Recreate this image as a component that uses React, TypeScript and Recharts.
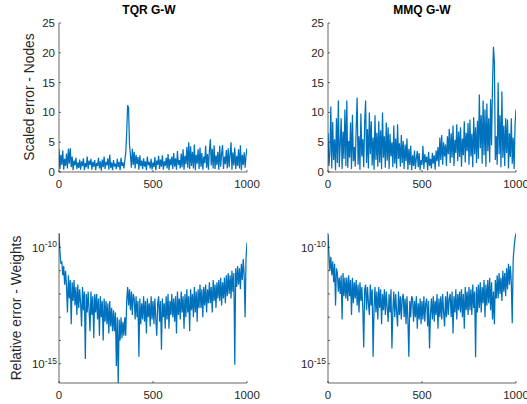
import React from 'react';
import { LineChart, Line, XAxis, YAxis } from 'recharts';

// sample index runs 0..1000, one stored value every 5 samples
const xTicks = [0, 500, 1000];
const linTicks = [0, 5, 10, 15, 20, 25];
const logTicks = [1e-15, 1e-14, 1e-13, 1e-12, 1e-11, 1e-10];
const logLabelled = [-15, -10];

// scaled error of the nodes (TQR)
const tqrNodes = [
  3.8, 0.5, 2.9, 1.2, 3.6, 0.4, 2.2, 1.0, 3.1, 0.6,
  3.9, 1.4, 4.0, 0.8, 2.6, 0.3, 1.9, 1.1, 2.4, 0.5,
  1.6, 0.7, 2.1, 0.4, 1.8, 1.0, 2.3, 0.3, 1.5, 0.8,
  2.6, 0.5, 1.9, 1.2, 2.2, 0.4, 1.7, 0.9, 2.0, 0.3,
  1.5, 1.0, 2.4, 0.6, 1.8, 0.2, 2.1, 0.8, 2.6, 0.5,
  1.7, 1.1, 2.3, 0.4, 2.9, 0.7, 1.6, 0.3, 2.0, 0.9,
  1.4, 0.5, 2.2, 0.8, 1.7, 0.3, 2.4, 1.0, 1.6, 0.6,
  1.9, 3.2, 6.5, 11.2, 10.8, 4.6, 2.8, 0.7, 3.9, 1.2,
  3.4, 0.6, 2.9, 1.3, 2.5, 0.4, 2.8, 1.0, 1.9, 0.5,
  2.3, 0.9, 1.8, 0.3, 2.6, 1.1, 1.7, 0.6, 2.2, 0.4,
  1.6, 0.8, 2.5, 0.3, 1.9, 1.2, 2.7, 0.5, 2.1, 0.9,
  2.8, 0.4, 1.8, 1.0, 2.4, 0.6, 3.0, 0.3, 2.2, 1.1,
  2.6, 0.5, 3.2, 0.9, 2.3, 0.4, 3.5, 1.2, 2.0, 0.6,
  3.1, 0.8, 3.8, 0.4, 2.7, 1.3, 4.2, 0.7, 5.0, 0.5,
  4.3, 1.0, 3.4, 0.6, 4.6, 0.3, 2.9, 1.4, 3.8, 0.5,
  4.1, 0.9, 3.2, 0.4, 2.6, 1.5, 4.4, 0.7, 3.0, 0.4,
  3.6, 5.5, 1.1, 3.9, 0.6, 4.5, 0.5, 2.8, 1.2, 3.4,
  0.4, 4.4, 0.9, 3.1, 4.5, 0.5, 2.6, 1.3, 3.7, 0.6,
  4.0, 0.8, 2.9, 5.0, 0.4, 3.3, 1.1, 4.1, 0.5, 2.7,
  1.0, 3.8, 0.6, 4.5, 0.3, 2.9, 1.2, 3.3, 0.7, 2.8,
  4.0,
];

// scaled error of the nodes (MMQ)
const mmqNodes = [
  6.5, 1.0, 3.2, 11.0, 0.6, 8.4, 2.0, 5.5, 0.3, 9.0,
  1.5, 12.0, 0.8, 4.6, 9.0, 0.5, 6.8, 2.2, 10.5, 1.0,
  12.0, 0.7, 5.2, 2.4, 8.3, 0.5, 9.6, 1.8, 4.2, 0.9,
  7.5, 12.5, 1.2, 6.0, 0.4, 9.8, 2.6, 5.5, 0.8, 8.4,
  12.0, 1.5, 7.2, 0.6, 10.0, 3.0, 8.5, 1.1, 5.8, 0.4,
  9.5, 2.0, 6.6, 0.9, 8.5, 1.6, 7.0, 0.5, 10.0, 2.4,
  6.0, 0.7, 8.3, 1.9, 7.5, 0.5, 6.4, 2.6, 5.0, 0.8,
  7.8, 1.4, 5.6, 0.6, 8.0, 2.2, 4.8, 0.9, 6.2, 1.5,
  5.2, 0.5, 4.6, 1.8, 5.6, 0.4, 3.9, 1.2, 4.4, 0.3,
  2.8, 1.0, 3.6, 0.5, 2.4, 3.5, 0.8, 3.2, 0.3, 2.0,
  1.2, 4.4, 0.5, 3.0, 1.6, 2.6, 0.3, 3.4, 1.0, 2.2,
  0.6, 3.2, 1.4, 2.8, 0.4, 3.6, 1.8, 4.2, 0.9, 5.8,
  2.0, 6.2, 1.2, 5.0, 2.6, 4.6, 1.0, 6.0, 3.0, 7.2,
  1.5, 6.5, 2.4, 7.8, 1.0, 5.4, 3.2, 8.0, 1.8, 6.8,
  2.5, 7.5, 0.9, 5.6, 2.8, 8.5, 1.6, 6.6, 3.5, 8.2,
  1.2, 8.8, 2.6, 6.4, 0.8, 9.2, 3.0, 7.5, 1.5, 8.6,
  2.2, 13.0, 4.0, 9.5, 1.4, 12.0, 2.8, 10.5, 0.9, 11.5,
  3.5, 9.0, 1.6, 12.2, 4.5, 14.5, 21.0, 18.5, 2.0, 6.0,
  1.2, 15.0, 3.0, 9.5, 0.8, 13.5, 2.4, 7.8, 1.0, 9.0,
  3.2, 8.8, 0.6, 6.5, 2.5, 9.0, 1.4, 5.8, 0.5, 8.0,
  10.5,
];

// relative error of the weights, stored as log10 exponents (TQR)
const tqrWeightsExp = [
  -9.4, -10.2, -10.7, -10.6, -11.2, -10.8, -11.6, -11.0, -11.7, -12.8,
  -11.2, -12.2, -11.4, -13.3, -11.5, -12.3, -11.4, -12.5, -11.7, -12.9,
  -11.6, -12.6, -11.8, -12.4, -13.4, -11.7, -12.7, -11.9, -14.8, -12.0,
  -12.8, -11.9, -12.7, -13.6, -11.9, -12.9, -12.1, -13.9, -12.0, -12.8,
  -12.0, -13.1, -12.2, -13.8, -12.1, -13.0, -12.3, -14.0, -12.2, -13.2,
  -12.3, -13.3, -12.4, -13.7, -12.3, -13.4, -12.6, -13.6, -12.7, -13.6,
  -12.8, -15.1, -13.0, -15.9, -13.1, -14.0, -13.0, -13.9, -13.2, -13.8,
  -13.0, -13.8, -12.3, -11.7, -12.5, -11.8, -12.7, -11.9, -12.9, -12.0,
  -12.2, -13.1, -12.1, -13.0, -12.3, -14.7, -12.2, -13.3, -12.4, -13.1,
  -12.1, -13.2, -12.3, -13.7, -12.2, -13.0, -12.4, -13.4, -12.1, -13.1,
  -12.3, -13.3, -12.2, -13.1, -13.8, -12.4, -12.1, -13.2, -12.3, -14.4,
  -12.2, -13.0, -12.4, -13.5, -12.1, -13.1, -12.0, -13.5, -12.3, -12.9,
  -12.0, -13.0, -12.2, -13.2, -12.1, -13.7, -11.9, -12.9, -12.2, -13.1,
  -11.9, -12.8, -12.1, -13.5, -12.0, -13.0, -11.8, -12.8, -12.1, -13.6,
  -11.8, -12.7, -12.0, -13.0, -11.7, -12.8, -11.9, -13.2, -11.8, -12.6,
  -11.6, -12.6, -11.8, -13.0, -11.7, -12.5, -11.6, -12.8, -11.8, -12.4,
  -11.5, -12.4, -11.7, -12.8, -11.4, -12.3, -11.6, -12.6, -11.5, -12.2,
  -11.4, -12.3, -11.3, -12.5, -11.5, -12.2, -11.3, -12.4, -11.2, -12.1,
  -11.1, -12.0, -11.2, -12.2, -11.0, -11.9, -11.1, -15.05, -10.9, -11.7,
  -10.8, -11.6, -10.9, -11.8, -10.7, -11.4, -10.5, -11.2, -13.0, -10.4,
  -9.8,
];

// relative error of the weights, stored as log10 exponents (MMQ)
const mmqWeightsExp = [
  -9.45, -10.3, -11.0, -10.4, -11.2, -10.6, -11.5, -10.7, -12.5, -10.9,
  -11.1, -11.9, -11.3, -12.0, -11.2, -13.1, -11.1, -12.1, -11.3, -12.2,
  -11.3, -12.3, -11.2, -12.1, -11.4, -12.9, -11.3, -12.4, -11.5, -12.2,
  -11.4, -12.5, -11.6, -12.8, -11.5, -12.3, -11.7, -12.6, -14.3, -11.8,
  -11.6, -12.7, -11.7, -12.4, -12.9, -11.6, -12.5, -11.8, -14.7, -12.6,
  -11.7, -12.8, -11.9, -13.1, -11.7, -12.6, -11.8, -13.3, -12.0, -12.7,
  -11.8, -12.9, -11.9, -12.6, -13.2, -12.0, -12.8, -11.8, -14.35, -12.7,
  -11.9, -13.0, -12.0, -12.8, -13.4, -11.9, -12.9, -12.1, -13.1, -12.2,
  -12.0, -13.0, -12.2, -13.3, -12.1, -13.1, -14.7, -12.3, -13.0, -12.1,
  -12.2, -13.2, -12.3, -13.0, -12.1, -13.5, -12.4, -13.1, -12.2, -13.3,
  -12.3, -13.1, -12.1, -13.2, -12.4, -12.2, -13.4, -12.3, -14.35, -12.9,
  -12.2, -13.1, -12.1, -13.2, -12.3, -12.9, -12.0, -13.5, -12.2, -13.0,
  -12.1, -13.1, -12.0, -12.8, -13.4, -12.1, -13.0, -11.9, -12.9, -12.2,
  -12.0, -13.0, -11.9, -13.7, -12.1, -12.8, -11.8, -13.1, -12.0, -12.7,
  -11.9, -12.8, -11.8, -13.0, -12.0, -13.5, -11.7, -12.7, -11.9, -12.9,
  -11.7, -12.7, -11.8, -12.9, -11.6, -12.6, -11.9, -14.72, -11.7, -12.8,
  -11.6, -12.6, -11.5, -12.8, -11.7, -12.4, -11.4, -13.0, -11.6, -12.5,
  -11.4, -12.4, -11.3, -12.7, -11.5, -13.1, -11.9, -13.3, -11.4, -12.2,
  -11.2, -12.2, -11.1, -12.0, -11.3, -12.3, -11.0, -11.9, -11.1, -12.1,
  -10.9, -11.8, -10.7, -11.6, -10.8, -11.5, -13.26, -10.5, -10.0, -9.6,
  -9.4,
];

const LINE = '#0072BD';
const AXIS = '#262626';
const FONT = '"Liberation Sans", Arial, Helvetica, sans-serif';

const toRows = (vals: number[], exp = false) =>
  vals.map((v, i) => ({ x: (i * 1000) / (vals.length - 1), y: exp ? Math.pow(10, v) : v }));

const LogTick = (props: any) => {
  const { x, y, payload } = props;
  const e = Math.round(Math.log10(payload.value));
  if (!logLabelled.includes(e)) return <g />;
  return (
    <text x={x} y={y} textAnchor="end" fill={AXIS} fontSize={11.5} fontFamily={FONT}>
      <tspan dy="0.4em">10</tspan>
      <tspan dy="-0.55em" fontSize={8.5}>{e}</tspan>
    </text>
  );
};

const ML = 50;
const MR = 20;
const MT = 10;
const MB = 30;

function Panel({ left, top, w, h, rows, log }: any) {
  const axisLine = { stroke: AXIS, strokeWidth: 0.7 };
  const tickFont = { fill: AXIS, fontSize: 11.5, fontFamily: FONT };
  const yDomain = log ? [Math.pow(10, -15.83), Math.pow(10, -9.38)] : [0, 25];
  const yTicks = log ? logTicks : linTicks;
  return (
    <div style={{ position: 'absolute', left: left - ML, top: top - MT }}>
      <LineChart
        width={w + ML + MR}
        height={h + MT + MB}
        data={rows}
        margin={{ top: MT, right: MR, bottom: 0, left: 0 }}
      >
        <XAxis
          dataKey="x"
          type="number"
          domain={[0, 1000]}
          ticks={xTicks}
          interval={0}
          height={MB}
          tickSize={-2}
          tickMargin={10}
          axisLine={axisLine}
          tickLine={axisLine}
          tick={tickFont}
          allowDataOverflow
        />
        <XAxis
          xAxisId="top"
          orientation="top"
          type="number"
          domain={[0, 1000]}
          ticks={xTicks}
          interval={0}
          height={0}
          tickSize={-2}
          tick={false}
          axisLine={axisLine}
          tickLine={axisLine}
          allowDataOverflow
        />
        <YAxis
          type="number"
          scale={log ? 'log' : 'auto'}
          domain={yDomain}
          ticks={yTicks}
          interval={0}
          width={ML}
          tickSize={-2}
          tickMargin={log ? 4 : 6}
          axisLine={axisLine}
          tickLine={axisLine}
          tick={log ? <LogTick /> : tickFont}
          allowDataOverflow
        />
        <YAxis
          yAxisId="right"
          orientation="right"
          type="number"
          scale={log ? 'log' : 'auto'}
          domain={yDomain}
          ticks={yTicks}
          interval={0}
          width={0}
          tickSize={-2}
          tick={false}
          axisLine={axisLine}
          tickLine={axisLine}
          allowDataOverflow
        />
        <Line
          dataKey="y"
          stroke={LINE}
          strokeWidth={1.25}
          strokeLinejoin="miter"
          dot={false}
          isAnimationActive={false}
        />
      </LineChart>
    </div>
  );
}

export default function App() {
  const title = {
    position: 'absolute' as const,
    top: 3,
    width: 120,
    textAlign: 'center' as const,
    fontFamily: FONT,
    fontWeight: 'bold' as const,
    fontSize: 12,
    color: '#000',
  };
  const ylabel = {
    position: 'absolute' as const,
    width: 200,
    height: 16,
    lineHeight: '16px',
    textAlign: 'center' as const,
    fontFamily: FONT,
    fontSize: 13.8,
    color: AXIS,
    transform: 'rotate(-90deg)',
    whiteSpace: 'nowrap' as const,
  };
  return (
    <div style={{ position: 'absolute', left: 0, top: 0, width: 527, height: 404, background: '#fff', overflow: 'hidden' }}>
      <Panel left={59} top={23} w={188} h={149} rows={toRows(tqrNodes)} log={false} />
      <Panel left={328} top={23} w={188} h={149} rows={toRows(mmqNodes)} log={false} />
      <Panel left={59} top={233} w={188} h={150} rows={toRows(tqrWeightsExp, true)} log />
      <Panel left={328} top={233} w={188} h={150} rows={toRows(mmqWeightsExp, true)} log />
      <div style={{ ...title, left: 149 - 60 }}>TQR G-W</div>
      <div style={{ ...title, left: 422 - 60 }}>MMQ G-W</div>
      <div style={{ ...ylabel, left: 30 - 100, top: 97 - 8 }}>Scaled error - Nodes</div>
      <div style={{ ...ylabel, left: 17 - 100, top: 308 - 8 }}>Relative error - Weights</div>
    </div>
  );
}
